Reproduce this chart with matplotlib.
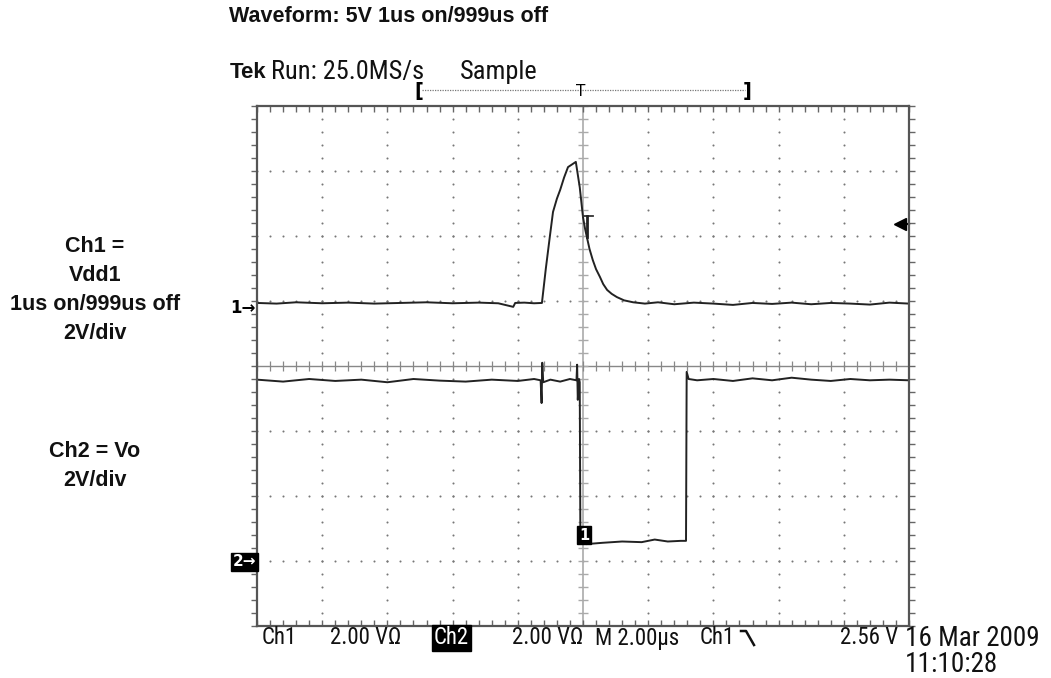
import numpy as np
import matplotlib
matplotlib.use("Agg")
import matplotlib.pyplot as plt
from matplotlib.lines import Line2D
from matplotlib import font_manager

# scope settings
volts_per_div = 2.0
us_per_div = 2.0
ch1_pos = 0.95      # ground marker, divisions from centre
ch2_pos = -3.0
trig_level = 2.56   # V on Ch1

# Ch1 = Vdd1 (time in us, volts)
ch1_t = [-10.0, -9.4, -8.8, -8.0, -7.2, -6.4, -5.6, -4.8, -4.0, -3.2, -2.6, -2.14, -2.08, -1.8,
         -1.5, -1.26, -1.14, -1.02, -0.92, -0.80, -0.70, -0.58, -0.46, -0.34, -0.22, -0.10,
         0.0, 0.06, 0.12, 0.20, 0.30, 0.40, 0.52, 0.62, 0.74, 0.88, 1.04, 1.26, 1.54, 1.9,
         2.3, 2.8, 3.4, 4.0, 4.6, 5.2, 5.8, 6.4, 7.0, 7.6, 8.2, 8.8, 9.4, 10.0]
ch1_v = [0.04, 0.02, 0.06, 0.03, 0.05, 0.02, 0.04, 0.06, 0.03, 0.05, 0.03, -0.08, 0.04, 0.05,
         0.03, 0.04, 1.10, 2.06, 2.84, 3.25, 3.52, 3.90, 4.22, 4.30, 4.38, 3.60,
         2.68, 2.34, 2.06, 1.70, 1.36, 1.08, 0.84, 0.62, 0.44, 0.32, 0.22, 0.12, 0.06, 0.02,
         0.06, 0.0, 0.05, 0.02, -0.02, 0.04, 0.01, 0.05, 0.0, 0.04, 0.02, -0.01, 0.05, 0.02]

# Ch2 = Vo
ch2_t = [-10.0, -9.2, -8.4, -7.6, -6.8, -6.0, -5.2, -4.4, -3.6, -2.8, -2.0, -1.5, -1.3,
         -1.27, -1.25, -1.22, -1.0, -0.7, -0.4, -0.2, -0.18, -0.16, -0.12, -0.10, -0.08,
         0.1, 0.6, 1.2, 1.8, 2.2, 2.6, 3.0, 3.16, 3.18, 3.24, 3.5, 4.0, 4.6, 5.2, 5.8,
         6.4, 7.0, 7.6, 8.2, 8.8, 9.4, 10.0]
ch2_v = [5.58, 5.52, 5.60, 5.54, 5.58, 5.50, 5.60, 5.55, 5.52, 5.58, 5.54, 5.60, 5.56,
         4.86, 6.10, 5.50, 5.58, 5.52, 5.60, 5.56, 6.04, 4.96, 5.60, 5.50, 0.56,
         0.52, 0.56, 0.60, 0.58, 0.66, 0.60, 0.62, 0.62, 5.82, 5.60, 5.56, 5.60, 5.54,
         5.62, 5.56, 5.64, 5.58, 5.54, 5.60, 5.56, 5.58, 5.56]

W, H = 1051, 678
fig = plt.figure(figsize=(W / 100, H / 100), dpi=100)


def px(x, y):
    return x / W, 1 - y / H


# narrow font for the scope readout, if one is installed
tek_family, scale = "DejaVu Sans", 0.78
for fam in ["Roboto Condensed", "Liberation Sans Narrow", "DejaVu Sans Condensed"]:
    try:
        font_manager.findfont(font_manager.FontProperties(family=fam), fallback_to_default=False)
        tek_family, scale = fam, 1.0
        break
    except ValueError:
        pass

ax = fig.add_axes([257 / W, 1 - 626 / H, 652 / W, 520 / H])
ax.set_xlim(-5, 5)
ax.set_ylim(-4, 4)
ax.set_xticks([])
ax.set_yticks([])
for s in ax.spines.values():
    s.set_color("#555555")
    s.set_linewidth(1.6)

grey = "#777777"
minor = np.arange(-5, 5.01, 0.2)
minor_y = np.arange(-4, 4.01, 0.2)

# dotted graticule
for k in range(-4, 5):
    if k != 0:
        ax.scatter(np.full(len(minor_y), k), minor_y, s=2.2, color=grey, lw=0)
for k in range(-3, 4):
    if k != 0:
        ax.scatter(minor, np.full(len(minor), k), s=2.2, color=grey, lw=0)

# centre axes with small ticks
ax.axvline(0, color="#aaaaaa", lw=1.2)
ax.axhline(0, color="#888888", lw=1.0)
ax.plot(np.zeros(len(minor_y)), minor_y, ls="none", marker="_", ms=7, mew=1.0, color="#aaaaaa")
ax.plot(minor, np.zeros(len(minor)), ls="none", marker="|", ms=7, mew=0.9, color="#888888")

# frame ticks pointing inward
tk = dict(ls="none", ms=4, mew=1.0, color="#666666", clip_on=False)
ax.plot(minor, np.full(len(minor), 4), marker=3, **tk)
ax.plot(minor, np.full(len(minor), -4), marker=2, **tk)
ax.plot(np.full(len(minor_y), -5), minor_y, marker=0, **tk)
ax.plot(np.full(len(minor_y), 5), minor_y, marker=1, **tk)

# traces
x1 = np.array(ch1_t) / us_per_div
y1 = ch1_pos + np.array(ch1_v) / volts_per_div
x2 = np.array(ch2_t) / us_per_div
y2 = ch2_pos + np.array(ch2_v) / volts_per_div
ax.plot(x1, y1, color="#222222", lw=1.4)
ax.plot(x2, y2, color="#222222", lw=1.4)

# trigger markers
ty = ch1_pos + trig_level / volts_per_div
ax.plot([0.0, 0.15], [ty + 0.08, ty + 0.08], color="#333333", lw=1.3)
ax.plot([0.06, 0.06], [ty + 0.08, ty - 0.25], color="#222222", lw=2.0)
ax.plot([4.88, 5.0], [ty - 0.05, ty - 0.05], color="black", lw=1.6, clip_on=False)
ax.plot([4.86], [ty - 0.05], marker="<", ms=9, color="black", clip_on=False)
ax.text(0.02, ch2_pos + 0.4, "1", color="white", fontsize=10.5, fontweight="bold",
        ha="center", va="center",
        bbox=dict(boxstyle="square,pad=0.12", fc="black", ec="black"))

# channel ground markers
fig.text(*px(256, 308), "1\u2192", ha="right", va="center", fontsize=12, fontweight="bold",
         family="DejaVu Sans")
fig.text(*px(256, 562), "2\u2192", ha="right", va="center", fontsize=11, fontweight="bold",
         color="white", family="DejaVu Sans",
         bbox=dict(boxstyle="square,pad=0.1", fc="black", ec="black"))

# titles
bold = dict(family="Liberation Sans", fontweight="bold", fontsize=15.5, color="#111111")
fig.text(*px(229, 17), "Waveform: 5V 1us on/999us off", va="center", **bold)
fig.text(*px(95, 290), "Ch1 =\nVdd1\n1us on/999us off\n2V/div", ha="center", va="center",
         linespacing=1.5, **bold)
fig.text(*px(95, 466), "Ch2 = Vo\n2V/div", ha="center", va="center", linespacing=1.5, **bold)

top = dict(family=tek_family, fontsize=19 * scale, color="#111111")
fig.text(*px(230, 72), "Tek", va="center", family="Liberation Sans", fontweight="bold",
         fontsize=16, color="#111111")
fig.text(*px(271, 72), "Run: 25.0MS/s", va="center", **top)
fig.text(*px(460, 72), "Sample", va="center", **top)

# record bracket
fig.text(*px(419, 92), "[", ha="center", va="center", fontsize=14, fontweight="bold")
fig.text(*px(747, 92), "]", ha="center", va="center", fontsize=14, fontweight="bold")
fig.text(*px(581, 91), "T", ha="center", va="center", fontsize=11)
fig.add_artist(Line2D([422 / W, 745 / W], [1 - 90 / H] * 2, color="#777777", lw=0.9,
                      ls=(0, (1, 1))))

# bottom readout
tek = dict(family=tek_family, fontsize=16.5 * scale, color="#111111")
by = 638
fig.text(*px(262, by), "Ch1", va="center", **tek)
fig.text(*px(330, by), "2.00 V\u03a9", va="center", **tek)
fig.text(*px(434, by), "Ch2", va="center", color="white", family=tek_family,
         fontsize=16.5 * scale,
         bbox=dict(boxstyle="square,pad=0.08", fc="black", ec="black"))
fig.text(*px(512, by), "2.00 V\u03a9", va="center", **tek)
fig.text(*px(595, by), "M 2.00\u00b5s", va="center", **tek)
fig.text(*px(700, by), "Ch1", va="center", **tek)
fig.add_artist(Line2D([741 / W, 746 / W, 754 / W], [1 - 631 / H, 1 - 631 / H, 1 - 645 / H],
                      color="#111111", lw=1.8))
fig.text(*px(898, by), "2.56 V", ha="right", va="center", **tek)
date = dict(family=tek_family, fontsize=19.5 * scale, color="#111111")
fig.text(*px(905, 638), "16 Mar 2009", va="center", **date)
fig.text(*px(905, 665), "11:10:28", va="center", **date)

fig.savefig("out.png", dpi=100)
